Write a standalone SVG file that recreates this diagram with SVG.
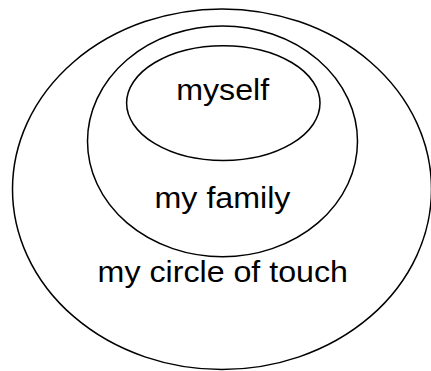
<svg xmlns="http://www.w3.org/2000/svg" width="431" height="371" viewBox="0 0 431 371">
<style>
.ring{fill:none;stroke:#000;stroke-width:1.5}
.lbl{font-family:"Liberation Sans",Arial,sans-serif;font-size:29px;fill:#000;text-anchor:middle}
</style>
<rect width="431" height="371" fill="#fff"/>
<g id="circle-of-touch">
<ellipse class="ring" cx="222" cy="189.2" rx="209.5" ry="180.3"/>
<text class="lbl" transform="translate(222.8,281.5) scale(1.11,1)">my circle of touch</text>
</g>
<g id="family">
<ellipse class="ring" cx="222.5" cy="141.3" rx="135" ry="115.4"/>
<text class="lbl" transform="translate(222.5,208.3) scale(1.11,1)">my family</text>
</g>
<g id="myself">
<ellipse class="ring" cx="223.3" cy="103.1" rx="96.7" ry="57.4"/>
<text class="lbl" transform="translate(222.7,100) scale(1.11,1)">myself</text>
</g>
<g id="connectors"/>
</svg>
